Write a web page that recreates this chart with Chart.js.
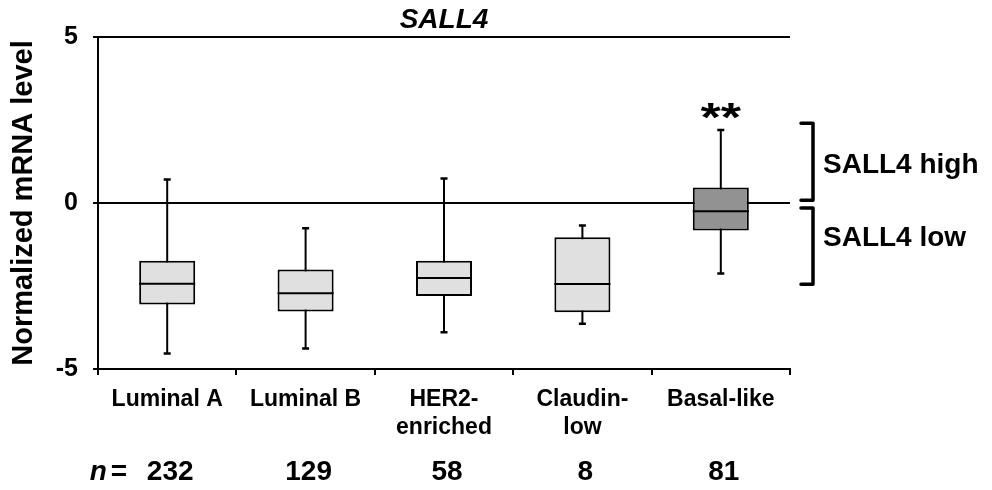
<!DOCTYPE html>
<html>
<head>
<meta charset="utf-8">
<title>SALL4</title>
<script src="https://cdn.jsdelivr.net/npm/chart.js@4.4.1/dist/chart.umd.min.js"></script>
<style>
html,body{margin:0;padding:0;background:#fff}
#wrap{width:992px;height:490px}
</style>
</head>
<body>
<div id="wrap"><canvas id="box-chart"></canvas></div>
<script>

const categories = [["Luminal A"],["Luminal B"],["HER2-","enriched"],["Claudin-","low"],["Basal-like"]]

const whiskerHigh = [0.71,-0.76,0.74,-0.68,2.2]
const q3 = [-1.74,-2.0,-1.74,-1.03,0.47]
const median = [-2.43,-2.72,-2.26,-2.44,-0.25]
const q1 = [-3.06,-3.27,-2.8,-3.29,-0.83]
const whiskerLow = [-4.53,-4.38,-3.89,-3.64,-2.12]

const sampleSizes = [232,129,58,8,81]
const significance = ["","","","","**"]

const yTicks = [-5,0,5]

const groupLabels = ["SALL4 high","SALL4 low"]
const groupRanges = [[2.4,0.08],[-0.15,-2.45]]
const groupLabelLevels = [1.15,-1.05]

const FONT = "'Liberation Sans', Arial, Helvetica, sans-serif"

Chart.defaults.font.family = FONT
Chart.defaults.color = "#000"

/* whiskers, medians and the extra labels around the plot */

const boxPlotParts = {
id:"boxPlotParts",
beforeDatasetsDraw(chart){

const ctx = chart.ctx
const y = chart.scales.y
const meta = chart.getDatasetMeta(0)

ctx.save()
ctx.strokeStyle = "#000"
ctx.lineCap = "butt"

meta.data.forEach((bar,i)=>{

const x = bar.x
const top = y.getPixelForValue(whiskerHigh[i])
const bottom = y.getPixelForValue(whiskerLow[i])

ctx.lineWidth = 2
ctx.beginPath()
ctx.moveTo(x,top)
ctx.lineTo(x,bottom)
ctx.stroke()

ctx.lineWidth = 2.5
ctx.beginPath()
ctx.moveTo(x-3.5,top)
ctx.lineTo(x+3.5,top)
ctx.moveTo(x-3.5,bottom)
ctx.lineTo(x+3.5,bottom)
ctx.stroke()

})

ctx.restore()

},
afterDatasetsDraw(chart){

const ctx = chart.ctx
const y = chart.scales.y
const xs = chart.scales.x
const area = chart.chartArea
const meta = chart.getDatasetMeta(0)

ctx.save()
ctx.strokeStyle = "#000"
ctx.fillStyle = "#000"

/* medians */
ctx.lineWidth = 2
meta.data.forEach((bar,i)=>{
const m = y.getPixelForValue(median[i])
ctx.beginPath()
ctx.moveTo(bar.x-bar.width/2,m)
ctx.lineTo(bar.x+bar.width/2,m)
ctx.stroke()
})

/* significance stars (a bit wider than the font gives) */
ctx.font = "bold 40px " + FONT
ctx.textAlign = "center"
ctx.textBaseline = "alphabetic"
significance.forEach((s,i)=>{
if(!s) return
ctx.save()
ctx.translate(xs.getPixelForValue(i), y.getPixelForValue(whiskerHigh[i]) + 1)
ctx.scale(1.3,1)
ctx.fillText(s,0,0)
ctx.restore()
})

/* sample sizes */
ctx.font = "bold 28px " + FONT
ctx.textBaseline = "middle"
const nY = 472
sampleSizes.forEach((n,i)=>{
ctx.textAlign = "center"
ctx.fillText(String(n), xs.getPixelForValue(i) + 3, nY)
})
ctx.textAlign = "right"
const eqRight = xs.getPixelForValue(0) - 40
ctx.fillText("=", eqRight, nY)
const eqW = ctx.measureText("=").width
ctx.font = "italic bold 28px " + FONT
ctx.fillText("n", eqRight - eqW - 4, nY)

/* high / low brackets */
ctx.lineWidth = 3.5
ctx.lineJoin = "round"
ctx.lineCap = "round"
const bx0 = area.right + 11
const bx1 = area.right + 23
groupRanges.forEach((r,i)=>{
const t = y.getPixelForValue(r[0])
const b = y.getPixelForValue(r[1])
ctx.beginPath()
ctx.moveTo(bx0,t)
ctx.lineTo(bx1,t)
ctx.lineTo(bx1,b)
ctx.lineTo(bx0,b)
ctx.stroke()
})

ctx.font = "bold 28px " + FONT
ctx.textAlign = "left"
ctx.textBaseline = "middle"
groupLabels.forEach((lab,i)=>{
ctx.fillText(lab, area.right + 33, y.getPixelForValue(groupLabelLevels[i]))
})

ctx.restore()

}
}

const canvas = document.getElementById("box-chart")
const ctx = canvas.getContext("2d")

new Chart(ctx,{
type:"bar",
data:{
labels:categories,
datasets:[
{
label:"IQR",
data:q1.map((v,i)=>[v,q3[i]]),
backgroundColor:categories.map((c,i)=> i === 4 ? "#929292" : "#e0e0e0"),
borderColor:"#000",
borderWidth:2,
borderSkipped:false,
barPercentage:0.405,
categoryPercentage:1
}
]
},
options:{
responsive:true,
maintainAspectRatio:false,
animation:false,
layout:{
padding:{left:0,right:202,top:0,bottom:0}
},
plugins:{
legend:{display:false},
tooltip:{enabled:false},
title:{
display:true,
text:"SALL4",
fullSize:false,
font:{size:28,weight:"bold",style:"italic",lineHeight:1},
padding:{top:6,bottom:3},
color:"#000"
}
},
scales:{
x:{
grid:{
display:true,
drawOnChartArea:false,
drawTicks:true,
tickLength:6,
color:"#000",
lineWidth:2
},
border:{display:true,color:"#000",width:2},
ticks:{
font:{size:23,weight:"bold",lineHeight:1.2},
color:"#000",
padding:11,
maxRotation:0,
autoSkip:false
},
afterFit(scale){ scale.height = 121 }
},
y:{
min:-5,
max:5,
afterBuildTicks(scale){ scale.ticks = yTicks.map(v=>({value:v})) },
grid:{
display:true,
drawOnChartArea:true,
drawTicks:true,
tickLength:5,
color:"#000",
lineWidth:2
},
border:{display:true,color:"#000",width:2},
ticks:{
font:{size:25,weight:"bold"},
color:"#000",
padding:15
},
title:{
display:true,
text:"Normalized mRNA level",
font:{size:29,weight:"bold",lineHeight:1},
color:"#000",
padding:{top:9,bottom:0}
},
afterFit(scale){ scale.width = 98 }
}
}
},
plugins:[boxPlotParts]
})

</script>
</body>
</html>
